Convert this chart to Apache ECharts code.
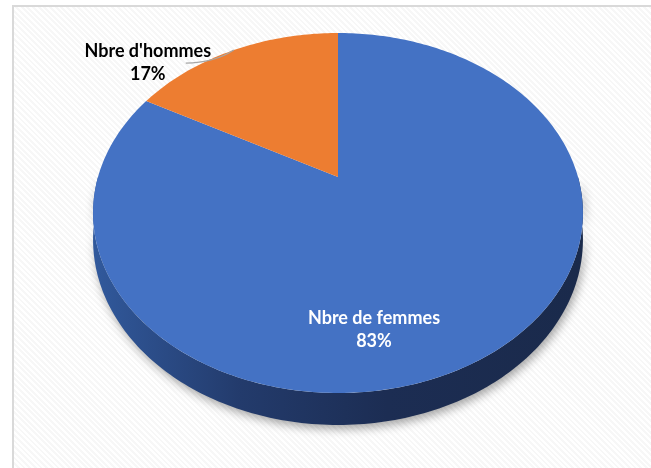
<!DOCTYPE html>
<html>
<head>
<meta charset="utf-8">
<script src="https://cdn.jsdelivr.net/npm/echarts@6/dist/echarts.min.js"></script>
<style>
  html, body { margin: 0; padding: 0; background: #fff; }
  #frame {
    position: absolute; left: 12px; top: 5px; width: 700px; height: 500px;
    border-top: 2px solid #d9d9d9; border-left: 2px solid #d9d9d9;
    background: repeating-linear-gradient(45deg, #ffffff 0 2px, #f7f7f7 2px 4px);
  }
  #main { position: absolute; left: 0; top: 0; width: 651px; height: 468px; }
</style>
</head>
<body>
<div id="frame"></div>
<div id="main"></div>
<script>
// pie data (first slice starts at 12 o'clock, clockwise)
var categories = ['Nbre de femmes', "Nbre d'hommes"];
var values = [83, 17];
var sliceColors = ['#4472c4', '#ed7d31'];
var labelColors = ['#ffffff', '#000000'];

// 3D look: tilted disc seen in perspective
var CX = 338, CY = 177;   // apex of the pie
var A = 240, B = 172.8;   // radii before perspective
var P = 0.2;              // perspective strength
var H = 25.6;             // thickness

var total = values.reduce(function (s, v) { return s + v; }, 0);

function pt(th, r, dz) {
  var u = r * Math.sin(th), v = r * Math.cos(th);
  var den = 1 + P * v;
  return [CX + A * u / den, CY - B * v / den + H * dz / den];
}

function arc(th0, th1, dz) {
  var pts = [];
  var n = Math.max(2, Math.ceil((th1 - th0) / (Math.PI / 180)));
  for (var k = 0; k <= n; k++) {
    pts.push(pt(th0 + (th1 - th0) * k / n, 1, dz));
  }
  return pts;
}

function renderItem(params, api) {
  var i = params.dataIndex;
  var before = 0;
  for (var j = 0; j < i; j++) before += values[j];
  var th0 = before / total * Math.PI * 2;
  var th1 = (before + values[i]) / total * Math.PI * 2;
  var pct = Math.round(values[i] / total * 100) + '%';
  var children = [];

  // front side of the disc
  var s0 = Math.max(th0, Math.PI / 2), s1 = Math.min(th1, Math.PI * 3 / 2);
  if (s1 > s0) {
    children.push({
      type: 'polygon',
      z2: 0,
      shape: { points: arc(s0, s1, 0).concat(arc(s0, s1, 1).reverse()) },
      style: {
        fill: new echarts.graphic.LinearGradient(0, 0, 1, 0, [
          { offset: 0, color: '#31599c' },
          { offset: 0.3, color: '#233b6c' },
          { offset: 0.6, color: '#1c2d53' },
          { offset: 1, color: '#1a2a4b' }
        ]),
        shadowBlur: 10,
        shadowOffsetX: 2,
        shadowOffsetY: 4,
        shadowColor: 'rgba(0,0,0,0.35)'
      }
    });
  }

  // top face
  children.push({
    type: 'polygon',
    z2: 1,
    shape: { points: [pt(0, 0, 0)].concat(arc(th0, th1, 0)) },
    style: { fill: sliceColors[i] }
  });

  var font = 'bold 18px Lato, "Open Sans", sans-serif';
  if (values[i] / total > 0.5) {
    // big slice: label inside, lower part of the face
    children.push({
      type: 'text',
      z2: 3,
      style: {
        text: categories[i] + '\n' + pct,
        x: CX + 36, y: CY + 153,
        fill: labelColors[i], font: font, lineHeight: 23,
        align: 'center', verticalAlign: 'middle'
      }
    });
  } else {
    // small slice: label outside with leader line
    var edge = pt((th0 + th1) / 2, 1, 0);
    var end = [edge[0] - 48, edge[1] + 13];
    children.push({
      type: 'bezierCurve',
      z2: 2,
      shape: {
        x1: edge[0], y1: edge[1], x2: end[0], y2: end[1],
        cpx1: edge[0] - 20, cpy1: edge[1] + 13
      },
      style: { stroke: '#a6a6a6', lineWidth: 1.2, fill: null }
    });
    children.push({
      type: 'text',
      z2: 3,
      style: {
        text: categories[i] + '\n' + pct,
        x: edge[0] - 86, y: edge[1] + 13,
        fill: labelColors[i], font: font, lineHeight: 23,
        align: 'center', verticalAlign: 'middle'
      }
    });
  }
  return { type: 'group', children: children };
}

var chart = echarts.init(document.getElementById('main'));
chart.setOption({
  backgroundColor: 'transparent',
  animation: false,
  series: [{
    type: 'custom',
    coordinateSystem: 'none',
    renderItem: renderItem,
    data: values.map(function (v, i) { return [v, i]; })
  }]
});
</script>
</body>
</html>
